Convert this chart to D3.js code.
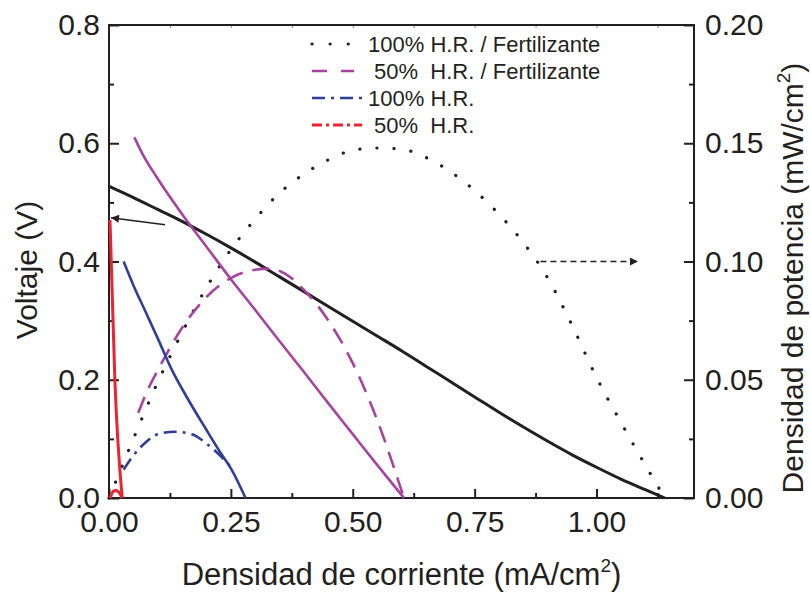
<!DOCTYPE html>
<html>
<head>
<meta charset="utf-8">
<script src="https://cdn.jsdelivr.net/npm/d3@7/dist/d3.min.js"></script>
<style>
body { margin: 0; background: #fff; }
svg text { font-family: "Liberation Sans", Arial, sans-serif; fill: #231f20; }
</style>
</head>
<body>
<svg id="chart"></svg>
<script>
// current density (mA/cm2) and voltage (V) / power (mW/cm2)
var iFert100 = [0, 0.05, 0.1, 0.15, 0.2, 0.25, 0.3, 0.35, 0.4, 0.45, 0.5, 0.55, 0.6, 0.65, 0.7, 0.75, 0.8, 0.85, 0.9, 0.95, 1.0, 1.05, 1.1, 1.14];
var vFert100 = [0.527, 0.508, 0.488, 0.468, 0.446, 0.423, 0.399, 0.374, 0.349, 0.324, 0.299, 0.274, 0.249, 0.223, 0.197, 0.171, 0.145, 0.12, 0.096, 0.073, 0.052, 0.032, 0.014, 0];
var ipFert100 = [0, 0.02, 0.05, 0.1, 0.15, 0.2, 0.25, 0.3, 0.35, 0.4, 0.45, 0.5, 0.55, 0.6, 0.65, 0.7, 0.75, 0.8, 0.85, 0.9, 0.95, 1.0, 1.05, 1.1, 1.14];
var pFert100 = [0, 0.01, 0.025, 0.049, 0.07, 0.089, 0.105, 0.118, 0.129, 0.137, 0.143, 0.147, 0.148, 0.1475, 0.144, 0.138, 0.13, 0.12, 0.108, 0.093, 0.073, 0.051, 0.032, 0.014, 0];

var iFert50 = [0.052, 0.07, 0.1, 0.15, 0.2, 0.25, 0.3, 0.35, 0.4, 0.45, 0.5, 0.55, 0.605];
var vFert50 = [0.61, 0.58, 0.54, 0.48, 0.425, 0.37, 0.318, 0.265, 0.213, 0.16, 0.108, 0.056, 0];
var ipFert50 = [0.06, 0.08, 0.1, 0.15, 0.2, 0.25, 0.3, 0.33, 0.36, 0.4, 0.45, 0.5, 0.55, 0.605];
var pFert50 = [0.036, 0.046, 0.054, 0.072, 0.085, 0.093, 0.0965, 0.097, 0.095, 0.088, 0.075, 0.057, 0.033, 0];

var iHR100 = [0.03, 0.05, 0.075, 0.1, 0.13, 0.16, 0.2, 0.23, 0.25, 0.28];
var vHR100 = [0.40, 0.36, 0.315, 0.27, 0.215, 0.17, 0.115, 0.075, 0.05, 0];
var ipHR100 = [0.03, 0.05, 0.075, 0.1, 0.135, 0.17, 0.2, 0.23, 0.255];
var pHR100 = [0.012, 0.018, 0.0235, 0.027, 0.028, 0.027, 0.023, 0.0175, 0.012];

var iHR50 = [0.002, 0.012, 0.027];
var vHR50 = [0.47, 0.2, 0];
var ipHR50 = [0.002, 0.006, 0.01, 0.014, 0.019, 0.023, 0.027];
var pHR50 = [0, 0.002, 0.003, 0.0032, 0.0027, 0.0017, 0];

var legendLabels = ['100% H.R. / Fertilizante', ' 50%  H.R. / Fertilizante', '100% H.R.', ' 50%  H.R.'];
var xTicks = [0, 0.25, 0.5, 0.75, 1.0];
var xMinor = [0.125, 0.375, 0.625, 0.875, 1.125];
var yTicks = [0, 0.2, 0.4, 0.6, 0.8];
var yMinor = [0.1, 0.3, 0.5, 0.7];
var y2Ticks = [0, 0.05, 0.1, 0.15, 0.2];
var y2Minor = [0.025, 0.075, 0.125, 0.175];

var width = 811, height = 593;
var margin = { top: 25, right: 117, bottom: 95, left: 109 };
var plotW = width - margin.left - margin.right;
var plotH = height - margin.top - margin.bottom;
var ink = '#231f20';
var purple = '#a8429f', blue = '#2f3f99', red = '#ee2330';

var svg = d3.select('#chart')
    .attr('width', width)
    .attr('height', height);

var defs = svg.append('defs');
defs.append('marker')
    .attr('id', 'head')
    .attr('viewBox', '0 0 10 10')
    .attr('refX', 10).attr('refY', 5)
    .attr('markerWidth', 12).attr('markerHeight', 8)
    .attr('markerUnits', 'userSpaceOnUse')
    .attr('orient', 'auto')
    .append('path').attr('d', 'M0,0 L10,5 L0,10 Z').attr('fill', ink);

var g = svg.append('g').attr('transform', 'translate(' + margin.left + ',' + margin.top + ')');

var x = d3.scaleLinear().domain([0, 1.2]).range([0, plotW]);
var y = d3.scaleLinear().domain([0, 0.8]).range([plotH, 0]);
var y2 = d3.scaleLinear().domain([0, 0.2]).range([plotH, 0]);

// axes, ticks pointing inward
function styleAxis(sel) {
    sel.select('.domain').remove();
    sel.selectAll('line').attr('stroke', ink).attr('stroke-width', 2);
    sel.selectAll('text').attr('font-size', 30).attr('fill', ink);
}

g.append('g').attr('transform', 'translate(0,' + plotH + ')')
    .call(d3.axisBottom(x).tickValues(xTicks).tickFormat(d3.format('.2f')).tickSize(-9).tickPadding(13))
    .call(styleAxis);
g.append('g').attr('transform', 'translate(0,' + plotH + ')')
    .call(d3.axisBottom(x).tickValues(xMinor).tickFormat('').tickSize(-5))
    .call(styleAxis);
g.append('g')
    .call(d3.axisTop(x).tickValues(xTicks.concat(xMinor)).tickFormat('').tickSize(-3))
    .call(styleAxis)
    .selectAll('line').attr('stroke-width', 1).attr('stroke', '#888');

g.append('g')
    .call(d3.axisLeft(y).tickValues(yTicks).tickFormat(d3.format('.1f')).tickSize(-10).tickPadding(9))
    .call(styleAxis);
g.append('g')
    .call(d3.axisLeft(y).tickValues(yMinor).tickFormat('').tickSize(-5))
    .call(styleAxis);

g.append('g').attr('transform', 'translate(' + plotW + ',0)')
    .call(d3.axisRight(y2).tickValues(y2Ticks).tickFormat(d3.format('.2f')).tickSize(-10).tickPadding(11))
    .call(styleAxis);
g.append('g').attr('transform', 'translate(' + plotW + ',0)')
    .call(d3.axisRight(y2).tickValues(y2Minor).tickFormat('').tickSize(-5))
    .call(styleAxis);

g.append('rect')
    .attr('width', plotW).attr('height', plotH)
    .attr('fill', 'none').attr('stroke', ink).attr('stroke-width', 2);

// curves
function curve(xs, ys, scaleY, color, w, dash, cap) {
    var pts = xs.map(function (d, i) { return [d, ys[i]]; });
    var line = d3.line()
        .x(function (d) { return x(d[0]); })
        .y(function (d) { return scaleY(d[1]); })
        .curve(d3.curveMonotoneX);
    g.append('path')
        .attr('d', line(pts))
        .attr('fill', 'none')
        .attr('stroke', color)
        .attr('stroke-width', w)
        .attr('stroke-dasharray', dash)
        .attr('stroke-linecap', cap || 'butt');
}

curve(iFert100, vFert100, y, ink, 3, null);
curve(ipFert100, pFert100, y2, ink, 3.2, '0.1 17', 'round');
curve(iFert50, vFert50, y, purple, 2.6, null);
curve(ipFert50, pFert50, y2, purple, 2.6, '17 10');
curve(iHR100, vHR100, y, blue, 2.6, null);
curve(ipHR100, pHR100, y2, blue, 2.6, '13 6 3 6');
curve(iHR50, vHR50, y, red, 3, null);
curve(ipHR50, pHR50, y2, red, 3, null);

// arrows pointing to the axis of each family
var arrowV = [[0.115, 0.462], [0.004, 0.474]];
var arrowP = [[0.885, 0.1], [1.085, 0.1]];
g.append('line')
    .attr('x1', x(arrowV[0][0])).attr('y1', y(arrowV[0][1]))
    .attr('x2', x(arrowV[1][0])).attr('y2', y(arrowV[1][1]))
    .attr('stroke', ink).attr('stroke-width', 1.5)
    .attr('marker-end', 'url(#head)');
g.append('line')
    .attr('x1', x(arrowP[0][0])).attr('y1', y2(arrowP[0][1]))
    .attr('x2', x(arrowP[1][0])).attr('y2', y2(arrowP[1][1]))
    .attr('stroke', ink).attr('stroke-width', 1.5)
    .attr('stroke-dasharray', '6 4')
    .attr('marker-end', 'url(#head)');

// legend
var legendStyles = [
    { color: ink, w: 3.2, dash: '0.1 18', cap: 'round', len: 44 },
    { color: purple, w: 2.6, dash: '15 14', cap: 'butt', len: 44 },
    { color: blue, w: 2.6, dash: '13 6 3 6', cap: 'butt', len: 52 },
    { color: red, w: 3, dash: '10 4 3 4', cap: 'butt', len: 52 }
];
var legend = svg.append('g').attr('transform', 'translate(310,44)');
legendLabels.forEach(function (label, i) {
    var row = legend.append('g').attr('transform', 'translate(0,' + (i * 27) + ')');
    var s = legendStyles[i];
    row.append('line')
        .attr('x1', 2).attr('x2', s.len)
        .attr('stroke', s.color).attr('stroke-width', s.w)
        .attr('stroke-dasharray', s.dash).attr('stroke-linecap', s.cap);
    row.append('text')
        .attr('x', 58).attr('dy', '0.35em')
        .attr('font-size', 22)
        .style('white-space', 'pre')
        .text(label);
});

// axis titles
var xt = svg.append('text')
    .attr('x', margin.left + plotW / 2).attr('y', 585)
    .attr('text-anchor', 'middle').attr('font-size', 31);
xt.append('tspan').text('Densidad de corriente (mA/cm');
xt.append('tspan').attr('font-size', 19).attr('dy', -13).text('2');
xt.append('tspan').attr('dy', 13).text(')');

svg.append('text')
    .attr('transform', 'translate(37,270) rotate(-90)')
    .attr('text-anchor', 'middle').attr('font-size', 30)
    .text('Voltaje (V)');

var yt = svg.append('text')
    .attr('transform', 'translate(803,278) rotate(-90)')
    .attr('text-anchor', 'middle').attr('font-size', 30);
yt.append('tspan').text('Densidad de potencia (mW/cm');
yt.append('tspan').attr('font-size', 19).attr('dy', -13).text('2');
yt.append('tspan').attr('dy', 13).text(')');
</script>
</body>
</html>
